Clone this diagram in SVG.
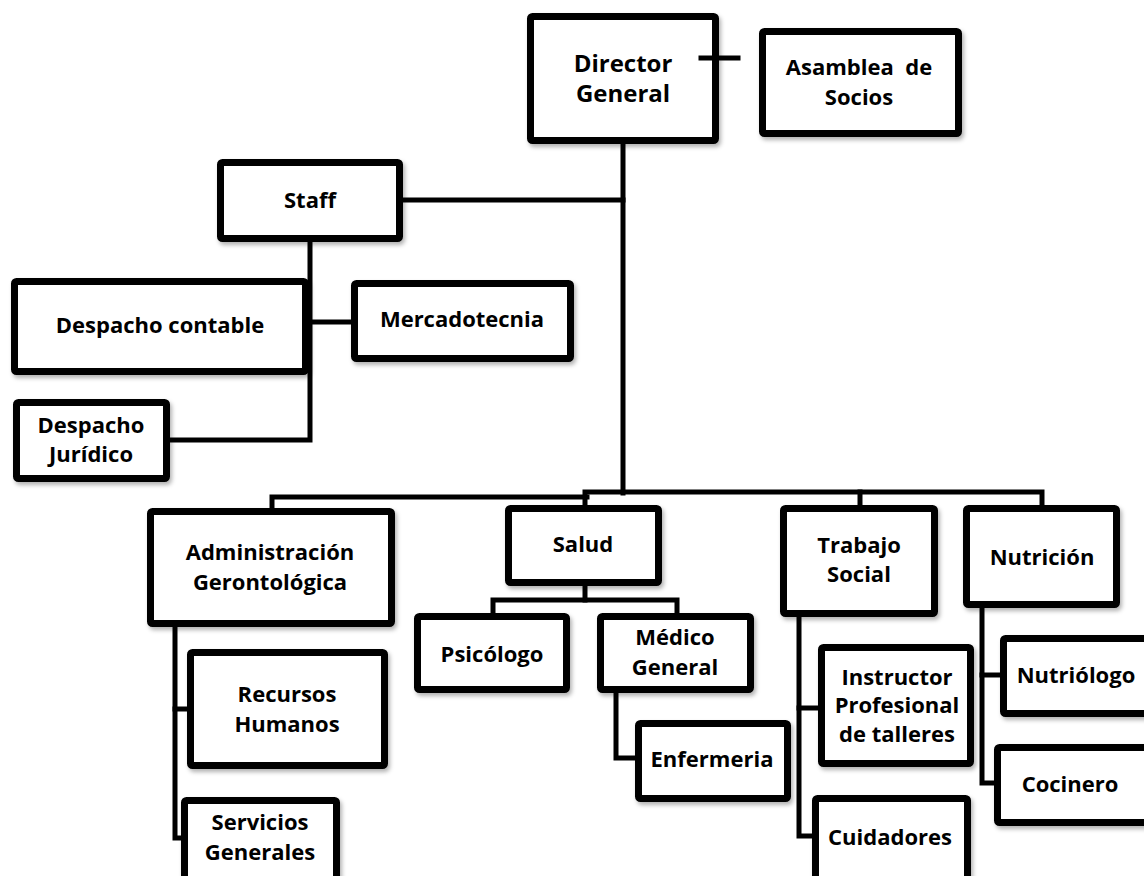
<svg xmlns="http://www.w3.org/2000/svg" width="1144" height="876" viewBox="0 0 1144 876">
<defs>
<filter id="sh" x="-10%" y="-10%" width="130%" height="130%">
<feDropShadow dx="2" dy="3" stdDeviation="2" flood-color="#000" flood-opacity="0.3"/>
</filter>
<style>
.box{fill:#fff;stroke:#000;stroke-width:7;filter:url(#sh)}
.ln{fill:none;stroke:#000;stroke-width:5;stroke-linejoin:miter;stroke-linecap:square}
.t{font-family:"Open Sans","Liberation Sans",sans-serif;font-weight:700;font-size:22px;fill:#000;text-anchor:middle}
.big{font-size:24px}
</style>
</defs>
<rect width="1144" height="876" fill="#fff"/>
<g id="director"><rect class="box" x="530.5" y="16.5" width="185" height="124" rx="2"/><text class="t big" x="623" y="72">Director</text><text class="t big" x="623" y="102">General</text></g>
<g id="asamblea"><rect class="box" x="762.5" y="31.5" width="196" height="102" rx="2"/><text class="t" x="859" y="75">Asamblea&#160; de</text><text class="t" x="859" y="105">Socios</text></g>
<g id="staff"><rect class="box" x="220.5" y="162.5" width="179" height="76" rx="2"/><text class="t" x="310" y="208">Staff</text></g>
<g id="despacho-contable"><rect class="box" x="14.5" y="281.5" width="291" height="90" rx="2"/><text class="t" x="160" y="333">Despacho contable</text></g>
<g id="mercadotecnia"><rect class="box" x="354.5" y="283.5" width="216" height="75" rx="2"/><text class="t" x="462" y="327">Mercadotecnia</text></g>
<g id="despacho-juridico"><rect class="box" x="16.5" y="402.5" width="150" height="76" rx="2"/><text class="t" x="91" y="433">Despacho</text><text class="t" x="91" y="462">Jurídico</text></g>
<g id="administracion"><rect class="box" x="150.5" y="511.5" width="241" height="112" rx="2"/><text class="t" x="270" y="560">Administración</text><text class="t" x="270" y="590">Gerontológica</text></g>
<g id="salud"><rect class="box" x="508.5" y="508.5" width="150" height="74" rx="2"/><text class="t" x="583" y="552">Salud</text></g>
<g id="trabajo-social"><rect class="box" x="783.5" y="508.5" width="151" height="105" rx="2"/><text class="t" x="859" y="553">Trabajo</text><text class="t" x="859" y="582">Social</text></g>
<g id="nutricion"><rect class="box" x="966.5" y="508.5" width="150" height="96" rx="2"/><text class="t" x="1042" y="565">Nutrición</text></g>
<g id="psicologo"><rect class="box" x="417.5" y="616.5" width="149" height="73" rx="2"/><text class="t" x="492" y="662">Psicólogo</text></g>
<g id="medico-general"><rect class="box" x="600.5" y="616.5" width="150" height="73" rx="2"/><text class="t" x="675" y="645">Médico</text><text class="t" x="675" y="675">General</text></g>
<g id="recursos-humanos"><rect class="box" x="190.5" y="652.5" width="194" height="113" rx="2"/><text class="t" x="287" y="702">Recursos</text><text class="t" x="287" y="732">Humanos</text></g>
<g id="servicios-generales"><rect class="box" x="184.5" y="800.5" width="152" height="90" rx="2"/><text class="t" x="260" y="830">Servicios</text><text class="t" x="260" y="860">Generales</text></g>
<g id="enfermeria"><rect class="box" x="638.5" y="723.5" width="149" height="75" rx="2"/><text class="t" x="712" y="767">Enfermeria</text></g>
<g id="instructor"><rect class="box" x="821.5" y="647.5" width="149" height="116" rx="2"/><text class="t" x="897" y="685">Instructor</text><text class="t" x="897" y="713">Profesional</text><text class="t" x="897" y="742">de talleres</text></g>
<g id="cuidadores"><rect class="box" x="815.5" y="798.5" width="152" height="90" rx="2"/><text class="t" x="890" y="845">Cuidadores</text></g>
<g id="nutriologo"><rect class="box" x="1003.5" y="638.5" width="160" height="75" rx="2"/><text class="t" x="1076" y="683">Nutriólogo</text></g>
<g id="cocinero"><rect class="box" x="997.5" y="747.5" width="166" height="75" rx="2"/><text class="t" x="1070" y="792">Cocinero</text></g>
<g id="connectors">
<path class="ln" d="M701,58 H738"/>
<path class="ln" d="M623,144 V493"/>
<path class="ln" d="M403,200 H623"/>
<path class="ln" d="M310,242 V440 H170"/>
<path class="ln" d="M310,322 H351"/>
<path class="ln" d="M272,508 V497 H587"/>
<path class="ln" d="M585,505 V492 H1042 V505"/>
<path class="ln" d="M860,492 V505"/>
<path class="ln" d="M585,586 V600"/>
<path class="ln" d="M493,613 V600 H677 V613"/>
<path class="ln" d="M175,627 V838 H181"/>
<path class="ln" d="M175,709 H187"/>
<path class="ln" d="M616,693 V758 H635"/>
<path class="ln" d="M799,617 V836 H812"/>
<path class="ln" d="M799,708 H818"/>
<path class="ln" d="M982,608 V783 H994"/>
<path class="ln" d="M982,675 H1000"/>
</g>
</svg>
